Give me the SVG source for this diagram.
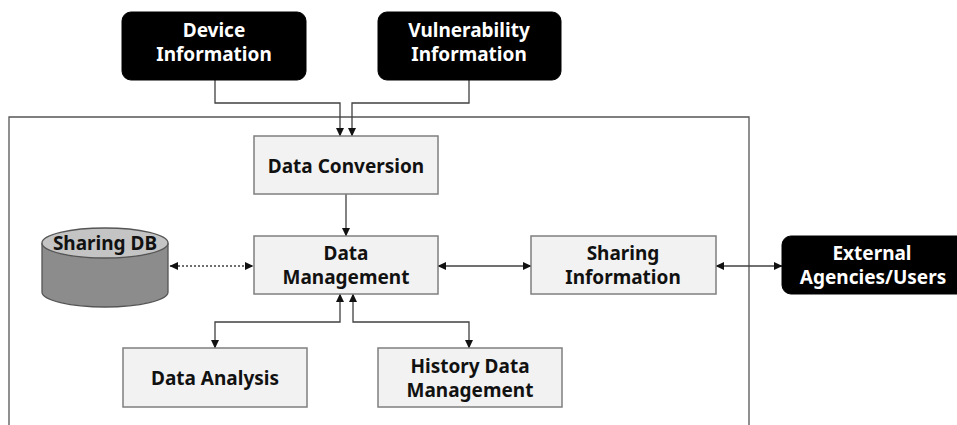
<svg xmlns="http://www.w3.org/2000/svg" width="957" height="425" viewBox="0 0 957 425">
<style>
.box{fill:#f2f2f2;stroke:#7f7f7f;stroke-width:1.5}
.dark{fill:#000;stroke:#000}
.t{font-family:"Noto Sans","Liberation Sans",sans-serif;font-weight:bold;font-size:19px;text-anchor:middle;fill:#111}
.w{fill:#fff}
.c{fill:none;stroke:#404040;stroke-width:1.3}
.d{stroke-dasharray:2,2}
</style>
<defs>
<marker id="a" markerUnits="userSpaceOnUse" markerWidth="9" markerHeight="9" refX="8" refY="4.5" orient="auto-start-reverse" viewBox="0 0 9 9">
<path d="M0,0.5 L8.5,4.5 L0,8.5 z" fill="#111"/>
</marker>
</defs>
<rect width="957" height="425" fill="#fff"/>
<path d="M9,425 V117 H749 V425" fill="none" stroke="#555" stroke-width="1.3"/>
<g id="connectors">
<path class="c" d="M215,80 V103 H340 V136" marker-end="url(#a)"/>
<path class="c" d="M469,80 V103 H352 V136" marker-end="url(#a)"/>
<path class="c" d="M346,194 V236" marker-end="url(#a)"/>
<path class="c d" d="M170,266 H253" marker-start="url(#a)" marker-end="url(#a)"/>
<path class="c" d="M438,266 H531" marker-start="url(#a)" marker-end="url(#a)"/>
<path class="c" d="M716,266 H782" marker-start="url(#a)" marker-end="url(#a)"/>
<path class="c" d="M340,294 V322 H215 V348" marker-start="url(#a)" marker-end="url(#a)"/>
<path class="c" d="M353,294 V322 H469 V348" marker-start="url(#a)" marker-end="url(#a)"/>
</g>
<g id="device">
<rect class="dark" x="122" y="12" width="184" height="68" rx="9"/>
<text class="t w" x="214" y="37">Device</text>
<text class="t w" x="214" y="61">Information</text>
</g>
<g id="vulnerability">
<rect class="dark" x="378" y="12" width="183" height="68" rx="9"/>
<text class="t w" x="469" y="37">Vulnerability</text>
<text class="t w" x="469" y="61">Information</text>
</g>
<g id="conversion">
<rect class="box" x="254" y="136" width="184" height="58"/>
<text class="t" x="346" y="173">Data Conversion</text>
</g>
<g id="management">
<rect class="box" x="254" y="236" width="184" height="58"/>
<text class="t" x="346" y="260">Data</text>
<text class="t" x="346" y="284">Management</text>
</g>
<g id="sharinginfo">
<rect class="box" x="531" y="236" width="185" height="58"/>
<text class="t" x="623" y="260">Sharing</text>
<text class="t" x="623" y="284">Information</text>
</g>
<g id="external">
<rect class="dark" x="782" y="236" width="190" height="58" rx="9"/>
<text class="t w" x="872" y="260">External</text>
<text class="t w" x="873" y="284">Agencies/Users</text>
</g>
<g id="sharingdb">
<path d="M42,243 V292 A63,15 0 0 0 168,292 V243" fill="#8c8c8c" stroke="#555" stroke-width="1.3"/>
<ellipse cx="105" cy="243" rx="63" ry="15" fill="#c4c4c4" stroke="#555" stroke-width="1.3"/>
<text class="t" x="105" y="250">Sharing DB</text>
</g>
<g id="analysis">
<rect class="box" x="123" y="348" width="184" height="59"/>
<text class="t" x="215" y="385">Data Analysis</text>
</g>
<g id="history">
<rect class="box" x="378" y="348" width="184" height="59"/>
<text class="t" x="470" y="373">History Data</text>
<text class="t" x="470" y="397">Management</text>
</g>
</svg>
